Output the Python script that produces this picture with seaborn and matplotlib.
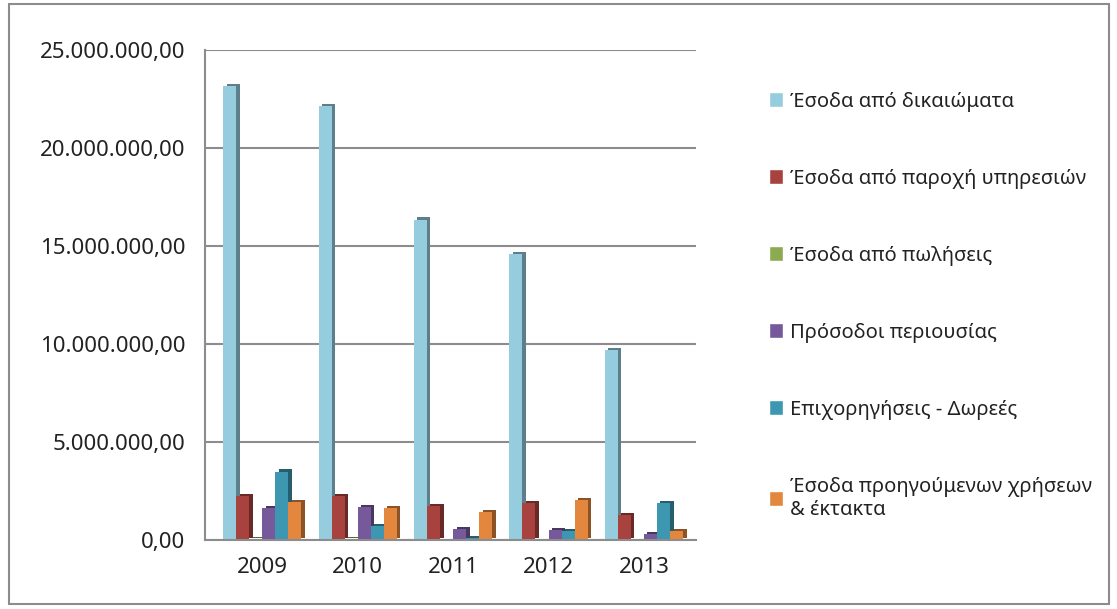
import pandas as pd
import matplotlib
matplotlib.use("Agg")
import matplotlib.pyplot as plt
import matplotlib.patheffects as pe
import matplotlib.colors as mcolors
from matplotlib.ticker import FuncFormatter
from matplotlib.patches import Rectangle
import seaborn as sns

# Data
years = ["2009", "2010", "2011", "2012", "2013"]
series = [
    "Έσοδα από δικαιώματα",
    "Έσοδα από παροχή υπηρεσιών",
    "Έσοδα από πωλήσεις",
    "Πρόσοδοι περιουσίας",
    "Επιχορηγήσεις - Δωρεές",
    "Έσοδα προηγούμενων χρήσεων\n& έκτακτα",
]
dikaiomata = [23150000, 22150000, 16350000, 14600000, 9700000]
ypiresies = [2250000, 2250000, 1750000, 1900000, 1300000]
poliseis = [40000, 40000, 30000, 30000, 30000]
prosodoi = [1650000, 1700000, 550000, 500000, 300000]
epixorigiseis = [3500000, 700000, 100000, 450000, 1900000]
ektakta = [1950000, 1650000, 1450000, 2050000, 450000]
colors = ["#96CDDE", "#A8423F", "#8CAA50", "#76599A", "#3E97B1", "#E2873D"]

values = [dikaiomata, ypiresies, poliseis, prosodoi, epixorigiseis, ektakta]
df = pd.DataFrame({
    "year": years * len(series),
    "series": [s for s in series for _ in years],
    "value": [v for vals in values for v in vals],
})

sns.set_style("white")
plt.rcParams["font.family"] = ["Noto Sans", "DejaVu Sans"]

fig = plt.figure(figsize=(11.17, 6.09), dpi=100)
ax = fig.add_axes([0.1835, 0.113, 0.44, 0.805])

sns.barplot(data=df, x="year", y="value", hue="series", hue_order=series,
            palette=colors, saturation=1, width=0.82, ax=ax, legend=True)

# fake 3D side faces with a darker offset shadow
for cont, col in zip(ax.containers, colors):
    dark = tuple(c * 0.62 for c in mcolors.to_rgb(col))
    for bar in cont:
        bar.set_edgecolor("none")
        bar.set_path_effects([
            pe.SimplePatchShadow(offset=(2.5, 1.5), shadow_rgbFace=dark, alpha=1),
            pe.Normal(),
        ])

ax.set_ylim(0, 25000000)
ax.set_xlim(-0.6, 4.55)
ax.set_yticks(range(0, 25000001, 5000000))
ax.yaxis.set_major_formatter(FuncFormatter(
    lambda v, p: f"{v:,.2f}".replace(",", "X").replace(".", ",").replace("X", ".")))
ax.grid(axis="y", color="#8C8C8C", linewidth=1.5)
ax.set_axisbelow(True)
ax.set_xlabel("")
ax.set_ylabel("")

for s in ["top", "right"]:
    ax.spines[s].set_visible(False)
for s in ["left", "bottom"]:
    ax.spines[s].set_color("#8C8C8C")
    ax.spines[s].set_linewidth(1.5)

ax.set_xticks([i - 0.5 for i in range(len(years) + 1)], minor=True)
ax.tick_params(axis="x", which="major", length=0, labelsize=16, pad=12, colors="#222222")
ax.tick_params(axis="x", which="minor", length=6, width=1.5, color="#8C8C8C", direction="out")
ax.tick_params(axis="y", length=6, width=1.5, color="#8C8C8C", direction="out",
               labelsize=16, pad=8, labelcolor="#222222")

leg = ax.legend(loc="upper left", bbox_to_anchor=(1.11, 0.952), frameon=False,
                fontsize=14.5, handlelength=0.7, handleheight=0.7, handletextpad=0.35,
                labelspacing=2.83)
for t in leg.get_texts():
    t.set_color("#222222")

fig.patches.append(Rectangle((0.008, 0.008), 0.985, 0.985, transform=fig.transFigure,
                             fill=False, edgecolor="#8C8C8C", linewidth=1.5))

fig.savefig("out.png", dpi=100)
